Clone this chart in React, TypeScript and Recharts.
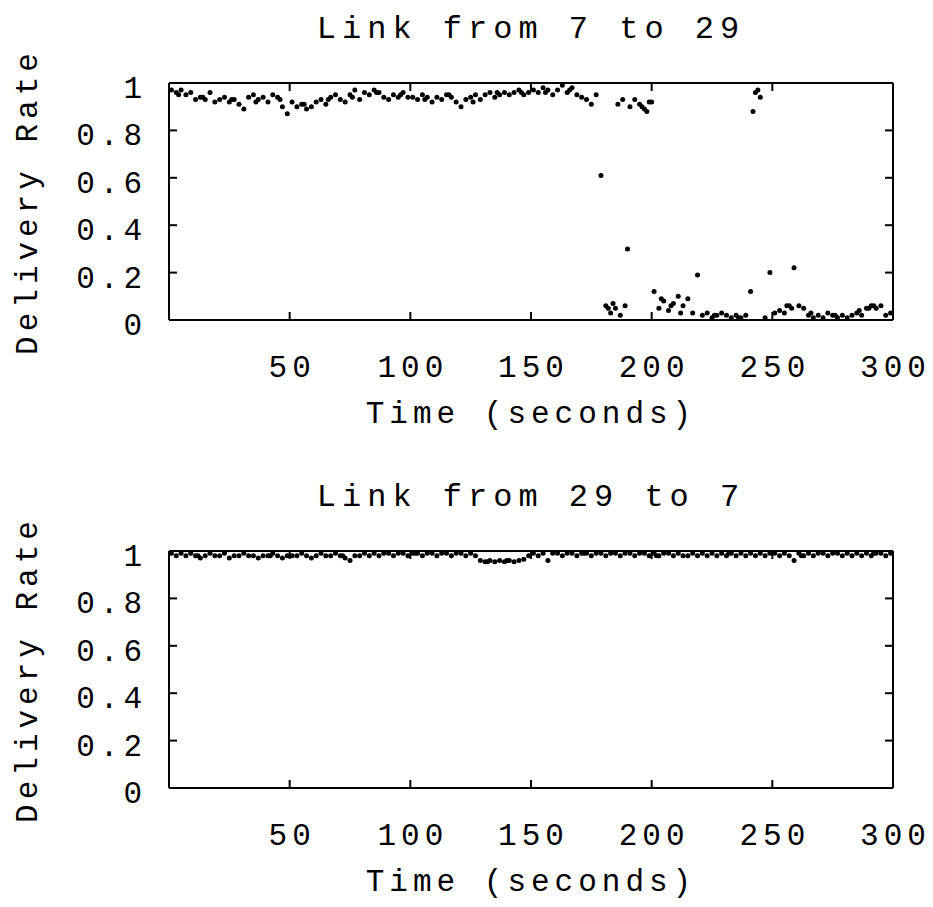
import { ScatterChart, Scatter, XAxis, YAxis } from "recharts";

const FONT = '"Liberation Mono", "Courier New", monospace';

// one sample every 2 s, starting at t = 1
const sampleStart = 1;
const sampleStep = 2;

const xTicks = [50, 100, 150, 200, 250, 300];
const yTicks = [0, 0.2, 0.4, 0.6, 0.8, 1];

// Link from 7 to 29
const rate7to29 = [
    0.97, 0.96, 0.97, 0.95, 0.96,
    0.93, 0.94, 0.93, 0.96, 0.92,
    0.93, 0.94, 0.92, 0.93, 0.91,
    0.89, 0.94, 0.95, 0.93, 0.94,
    0.92, 0.95, 0.94, 0.90, 0.87,
    0.92, 0.90, 0.91, 0.89, 0.90,
    0.92, 0.93, 0.91, 0.94, 0.95,
    0.93, 0.92, 0.95, 0.97, 0.93,
    0.96, 0.95, 0.97, 0.96, 0.94,
    0.93, 0.95, 0.94, 0.96, 0.94,
    0.94, 0.93, 0.95, 0.94, 0.92,
    0.94, 0.93, 0.95, 0.94, 0.92,
    0.90, 0.93, 0.94, 0.95, 0.93,
    0.95, 0.96, 0.94, 0.95, 0.96,
    0.95, 0.96, 0.97, 0.95, 0.96,
    0.97, 0.96, 0.98, 0.97, 0.95,
    0.97, 0.99, 0.96, 0.98, 0.95,
    0.94, 0.93, 0.91, 0.95, 0.61,
    0.06, 0.03, 0.05, 0.02, 0.06,
    0.90, 0.93, 0.91, 0.89, 0.92,
    0.12, 0.05, 0.08, 0.04, 0.07,
    0.10, 0.06, 0.09, 0.03, 0.19,
    0.02, 0.03, 0.01, 0.02, 0.03,
    0.02, 0.01, 0.02, 0.01, 0.02,
    0.12, 0.96, 0.94, 0.01, 0.20,
    0.03, 0.04, 0.03, 0.06, 0.22,
    0.06, 0.05, 0.02, 0.01, 0.02,
    0.01, 0.03, 0.02, 0.01, 0.02,
    0.01, 0.02, 0.03, 0.02, 0.05,
    0.06, 0.05, 0.06, 0.02, 0.03,
];

// extra points [time, rate] between the regular samples
const extra7to29 = [
    [182, 0.05], [184, 0.07], [186, 0.91], [188, 0.93], [190, 0.30],
    [196, 0.90], [198, 0.88], [200, 0.92], [204, 0.09], [208, 0.06],
    [212, 0.03], [242, 0.88], [244, 0.97], [256, 0.06], [258, 0.05],
    [290, 0.05], [292, 0.06],
    [4, 0.95], [14, 0.94], [26, 0.93], [36, 0.92], [46, 0.93],
    [56, 0.91], [66, 0.93], [76, 0.94], [86, 0.96], [96, 0.95],
    [106, 0.93], [116, 0.95], [126, 0.92], [136, 0.96], [146, 0.96],
    [156, 0.96], [166, 0.97], [226, 0.02], [236, 0.01], [266, 0.03],
    [276, 0.02], [286, 0.04],
];

// Link from 29 to 7
const rate29to7 = [
    0.99, 0.98, 0.99, 0.98, 0.99,
    0.98, 0.97, 0.98, 0.99, 0.98,
    0.98, 0.99, 0.97, 0.98, 0.98,
    0.99, 0.98, 0.98, 0.97, 0.98,
    0.98, 0.99, 0.98, 0.97, 0.98,
    0.98, 0.98, 0.99, 0.98, 0.97,
    0.98, 0.99, 0.98, 0.98, 0.99,
    0.98, 0.97, 0.96, 0.98, 0.98,
    0.99, 0.98, 0.99, 0.98, 0.99,
    0.99, 0.98, 0.99, 0.99, 0.98,
    0.99, 0.99, 0.98, 0.99, 0.99,
    0.98, 0.99, 0.99, 0.98, 0.99,
    0.99, 0.98, 0.99, 0.98, 0.96,
    0.955, 0.96, 0.955, 0.96, 0.955,
    0.96, 0.955, 0.96, 0.965, 0.98,
    0.99, 0.98, 0.99, 0.96, 0.99,
    0.99, 0.98, 0.99, 0.99, 0.98,
    0.99, 0.99, 0.98, 0.99, 0.99,
    0.98, 0.99, 0.99, 0.98, 0.99,
    0.99, 0.98, 0.99, 0.99, 0.98,
    0.99, 0.98, 0.99, 0.99, 0.98,
    0.99, 0.98, 0.98, 0.99, 0.98,
    0.99, 0.98, 0.99, 0.98, 0.99,
    0.98, 0.99, 0.98, 0.99, 0.98,
    0.99, 0.98, 0.99, 0.98, 0.99,
    0.99, 0.98, 0.99, 0.98, 0.96,
    0.99, 0.98, 0.99, 0.98, 0.99,
    0.99, 0.98, 0.99, 0.99, 0.98,
    0.99, 0.98, 0.99, 0.98, 0.99,
    0.98, 0.99, 0.99, 0.98, 0.99,
];

const extra29to7 = [
    [12, 0.98], [42, 0.98], [72, 0.98], [102, 0.99], [132, 0.955],
    [140, 0.96], [172, 0.99], [202, 0.98], [232, 0.99], [262, 0.98],
    [292, 0.99],
];

const textStyle = { fontSize: 31, fontFamily: FONT, fill: "#000", letterSpacing: 5 };
const TICK_LEN = 8;

function buildPoints(rates: number[], extras: number[][]) {
    const pts = rates.map((v, i) => ({ t: sampleStart + i * sampleStep, v }));
    extras.forEach(([t, v]) => pts.push({ t, v }));
    return pts;
}

const Dot = (props: any) => <circle cx={props.cx} cy={props.cy} r={2.5} fill="#000" />;
const NoDot = () => <g />;

// gnuplot style: tick marks point into the plot
const BottomTick = ({ x, y, payload }: any) => (
    <g>
        <line x1={x} x2={x} y1={y} y2={y - TICK_LEN} stroke="#000" strokeWidth={2} />
        <text x={x + 2.5} y={y + 57} textAnchor="middle" {...textStyle}>
            {payload.value}
        </text>
    </g>
);

const LeftTick = ({ x, y, payload }: any) => (
    <g>
        <line x1={x} x2={x + TICK_LEN} y1={y} y2={y} stroke="#000" strokeWidth={2} />
        <text x={x - 22} y={y + 15} textAnchor="end" {...textStyle}>
            {payload.value}
        </text>
    </g>
);

const TopTick = ({ x, y }: any) => (
    <line x1={x} x2={x} y1={y} y2={y + TICK_LEN} stroke="#000" strokeWidth={2} />
);

const RightTick = ({ x, y }: any) => (
    <line x1={x} x2={x - TICK_LEN} y1={y} y2={y} stroke="#000" strokeWidth={2} />
);

function LinkPanel({ title, rates, extras }: { title: string; rates: number[]; extras: number[][] }) {
    const data = buildPoints(rates, extras);
    return (
        <div style={{ position: "relative", width: 925, height: 468 }}>
            <div
                style={{
                    position: "absolute",
                    left: 161,
                    width: 724,
                    top: 6,
                    textAlign: "center",
                    fontFamily: FONT,
                    fontSize: 32,
                    lineHeight: "32px",
                    letterSpacing: 6,
                    color: "#000",
                }}
            >
                {title}
            </div>
            <ScatterChart width={925} height={468} margin={{ top: 74, right: 39, left: 0, bottom: 46 }}>
                <XAxis
                    dataKey="t"
                    type="number"
                    domain={[0, 300]}
                    ticks={xTicks}
                    interval={0}
                    height={110}
                    tickSize={0}
                    tickMargin={0}
                    tickLine={false}
                    stroke="#000"
                    strokeWidth={2}
                    tick={<BottomTick />}
                    label={{ value: "Time (seconds)", position: "insideBottom", offset: 7, style: textStyle }}
                />
                <XAxis
                    xAxisId="top"
                    dataKey="t"
                    orientation="top"
                    type="number"
                    domain={[0, 300]}
                    ticks={xTicks}
                    interval={0}
                    height={1}
                    tickSize={0}
                    tickMargin={0}
                    tickLine={false}
                    stroke="#000"
                    strokeWidth={2}
                    tick={<TopTick />}
                />
                <YAxis
                    dataKey="v"
                    type="number"
                    domain={[0, 1]}
                    ticks={yTicks}
                    interval={0}
                    width={161}
                    tickSize={0}
                    tickMargin={0}
                    tickLine={false}
                    stroke="#000"
                    strokeWidth={2}
                    tick={<LeftTick />}
                    label={{
                        value: "Delivery Rate",
                        angle: -90,
                        position: "insideLeft",
                        offset: 18,
                        style: { ...textStyle, textAnchor: "middle" },
                    }}
                />
                <YAxis
                    yAxisId="right"
                    dataKey="v"
                    orientation="right"
                    type="number"
                    domain={[0, 1]}
                    ticks={yTicks}
                    interval={0}
                    width={1}
                    tickSize={0}
                    tickMargin={0}
                    tickLine={false}
                    stroke="#000"
                    strokeWidth={2}
                    tick={<RightTick />}
                />
                <Scatter data={data} fill="#000" shape={Dot} isAnimationActive={false} />
                <Scatter
                    data={data}
                    xAxisId="top"
                    yAxisId="right"
                    shape={NoDot}
                    isAnimationActive={false}
                />
            </ScatterChart>
        </div>
    );
}

export default function App() {
    return (
        <div style={{ width: 925, background: "#fff" }}>
            <LinkPanel title="Link from 7 to 29" rates={rate7to29} extras={extra7to29} />
            <LinkPanel title="Link from 29 to 7" rates={rate29to7} extras={extra29to7} />
        </div>
    );
}
